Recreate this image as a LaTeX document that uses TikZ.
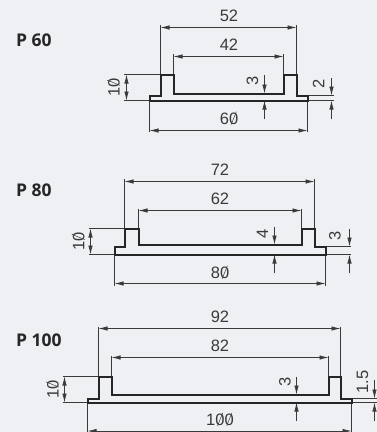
\documentclass[tikz,border=0pt]{standalone}
\usepackage{fontspec}
\usepackage{graphicx}
\setmainfont{Liberation Sans}
\newfontfamily\labelfont{Open Sans}
\usetikzlibrary{arrows.meta}
\definecolor{bgc}{HTML}{EEF0F3}
\definecolor{ink}{HTML}{262626}
\definecolor{dimc}{HTML}{3A3A3A}
\newcommand{\szero}{\leavevmode\rlap{\hbox to 9.5pt{\hss\raisebox{6.1pt}{\rotatebox{68}{\makebox[0pt]{\rule[-0.25pt]{14pt}{0.5pt}}}}\hss}}0}
\tikzset{
  outline/.style={draw=ink,line width=2pt,line join=miter},
  extline/.style={draw=dimc,line width=0.7pt},
  dimline/.style={draw=dimc,line width=0.7pt,{Latex[length=9pt,width=4.4pt]}-{Latex[length=9pt,width=4.4pt]}},
  leader/.style={draw=dimc,line width=0.7pt,-{Latex[length=9pt,width=4.4pt]}},
  dimtext/.style={text=dimc,font=\fontsize{16.5}{17}\selectfont,inner sep=0pt,anchor=center},
  dimrot/.style={dimtext,rotate=90},
  title/.style={text=ink,font=\labelfont\bfseries\fontsize{17.5}{19}\selectfont,inner sep=0pt,anchor=base west}
}
\begin{document}
\begin{tikzpicture}[x=1pt,y=-1pt]
\fill[bgc] (0,0) rectangle (377,432);
\useasboundingbox (0,0) rectangle (377,432);
% P 60
\node[title] (t60) at (16,46) {P 60};
\draw[extline] (160.5,25) -- (160.5,74.5) (296.5,25) -- (296.5,74.5);
\draw[extline] (173.5,54) -- (173.5,74.5) (283.5,54) -- (283.5,74.5);
\draw[extline] (149.5,100.5) -- (149.5,132) (307.5,100.5) -- (307.5,132);
\draw[extline] (124,74.5) -- (160.5,74.5) (124,100.5) -- (149.5,100.5);
\draw[extline] (307.5,95.5) -- (334,95.5) (307.5,100.5) -- (334,100.5);
\draw[outline] (149.5,100.5) -- (149.5,95.5) -- (160.5,95.5) -- (160.5,74.5) -- (173.5,74.5) -- (173.5,93.5) -- (283.5,93.5) -- (283.5,74.5) -- (296.5,74.5) -- (296.5,95.5) -- (307.5,95.5) -- (307.5,100.5) -- cycle;
\draw[dimline] (160.5,27.5) -- (296.5,27.5);
\draw[dimline] (173.5,56.5) -- (283.5,56.5);
\draw[dimline] (149.5,130.5) -- (307.5,130.5);
\draw[dimline] (126.5,74.5) -- (126.5,100.5);
\draw[leader] (264.5,75) -- (264.5,93.5);
\draw[leader] (264.5,119) -- (264.5,100.5);
\draw[leader] (331.5,78) -- (331.5,95.5);
\draw[leader] (331.5,119) -- (331.5,100.5);
\node[dimtext] (a52) at (229,16) {52};
\node[dimtext] (a42) at (229,45) {42};
\node[dimtext] (a60) at (229,118.5) {6\szero};
\node[dimrot] (a3) at (252.5,81) {3};
\node[dimrot] (a2) at (318.5,84) {2};
\node[dimrot] (a10) at (114,87.5) {1\szero};
% P 80
\node[title] (t80) at (16,196.7) {P 80};
\draw[extline] (124.5,179) -- (124.5,228.5) (314.5,179) -- (314.5,228.5);
\draw[extline] (138.5,209) -- (138.5,228.5) (301.5,209) -- (301.5,228.5);
\draw[extline] (114.5,254.5) -- (114.5,286) (325.5,254.5) -- (325.5,286);
\draw[extline] (89,228.5) -- (124.5,228.5) (89,254.5) -- (114.5,254.5);
\draw[extline] (325.5,246.5) -- (351,246.5) (325.5,254.5) -- (351,254.5);
\draw[outline] (114.5,254.5) -- (114.5,246.5) -- (124.5,246.5) -- (124.5,228.5) -- (138.5,228.5) -- (138.5,244.5) -- (301.5,244.5) -- (301.5,228.5) -- (314.5,228.5) -- (314.5,246.5) -- (325.5,246.5) -- (325.5,254.5) -- cycle;
\draw[dimline] (124.5,181.5) -- (314.5,181.5);
\draw[dimline] (138.5,210.5) -- (301.5,210.5);
\draw[dimline] (114.5,283.5) -- (325.5,283.5);
\draw[dimline] (90.5,228.5) -- (90.5,254.5);
\draw[leader] (274.5,226.7) -- (274.5,244.5);
\draw[leader] (274.5,272.7) -- (274.5,254.5);
\draw[leader] (349.5,229.3) -- (349.5,246.5);
\draw[leader] (349.5,272.7) -- (349.5,254.5);
\node[dimtext] (b72) at (220,169.7) {72};
\node[dimtext] (b62) at (220,198.7) {62};
\node[dimtext] (b80) at (220,272.7) {8\szero};
\node[dimrot] (b4) at (262.5,234) {4};
\node[dimrot] (b3) at (335,236.3) {3};
\node[dimrot] (b10) at (78.7,241.7) {1\szero};
% P 100
\node[title] (t100) at (16,346) {P 100};
\draw[extline] (98.5,326.5) -- (98.5,376.5) (340.5,326.5) -- (340.5,376.5);
\draw[extline] (111.5,355.5) -- (111.5,376.5) (328.5,355.5) -- (328.5,376.5);
\draw[extline] (87.5,402.5) -- (87.5,433) (351.5,402.5) -- (351.5,433);
\draw[extline] (62.5,376.5) -- (98.5,376.5) (62.5,402.5) -- (87.5,402.5);
\draw[extline] (351.5,398.5) -- (377,398.5) (351.5,402.5) -- (377,402.5);
\draw[outline] (87.5,402.5) -- (87.5,398.5) -- (98.5,398.5) -- (98.5,376.5) -- (111.5,376.5) -- (111.5,394.5) -- (328.5,394.5) -- (328.5,376.5) -- (340.5,376.5) -- (340.5,398.5) -- (351.5,398.5) -- (351.5,402.5) -- cycle;
\draw[dimline] (98.5,328.5) -- (340.5,328.5);
\draw[dimline] (111.5,357.5) -- (328.5,357.5);
\draw[dimline] (87.5,431) -- (351.5,431);
\draw[dimline] (64.5,376.5) -- (64.5,402.5);
\draw[leader] (296.5,376.7) -- (296.5,394.5);
\draw[leader] (296.5,420.7) -- (296.5,402.5);
\draw[leader] (374.5,380.3) -- (374.5,398.5);
\draw[leader] (374.5,420.7) -- (374.5,402.5);
\node[dimtext] (c92) at (220,317.3) {92};
\node[dimtext] (c82) at (220,346.3) {82};
\node[dimtext] (c100) at (220,419.7) {1\szero\szero};
\node[dimrot] (c3) at (285,382.3) {3};
\node[dimrot] (c15) at (362.5,381.7) {1.5};
\node[dimrot] (c10) at (53,389.3) {1\szero};
\end{tikzpicture}
\end{document}
